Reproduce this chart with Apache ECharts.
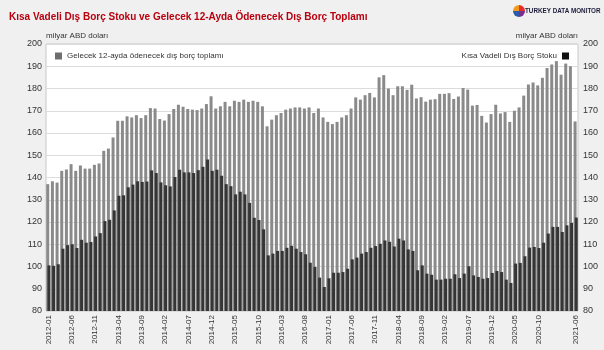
<!DOCTYPE html>
<html>
<head>
<meta charset="utf-8">
<script src="https://cdn.jsdelivr.net/npm/echarts@6/dist/echarts.min.js"></script>
<style>
  html, body { margin: 0; padding: 0; background: #f0f0f0; }
  #chart { width: 604px; height: 350px; }
</style>
</head>
<body>
<div id="chart"></div>
<script>
// Monthly categories, 2012-01 .. 2021-06
const months = [];
for (let y = 2012; y <= 2021; y++) {
  for (let m = 1; m <= 12; m++) {
    if (y === 2021 && m > 6) break;
    months.push(y + '-' + (m < 10 ? '0' + m : m));
  }
}

// Next-12-month external debt payments (billion USD)
const next12Months = [
  137, 138.3, 137.7, 143, 143.6, 146, 143, 145.4, 144, 144, 145.7, 146.3,
  152, 153, 158, 165.5, 165.5, 167.5, 167, 168, 166.7, 168, 171.2, 171,
  166.3, 165.6, 168.5, 170.8, 172.7, 171.8, 170.8, 170.5, 170.3, 171, 173, 176.5,
  171, 172, 174, 172, 174.5, 174, 175, 174, 174.5, 174, 172, 163,
  166, 168, 169, 170.5, 171, 171.5, 171.5, 171, 171.5, 169, 171, 167,
  165, 164, 165, 167, 168, 171, 176, 175, 177, 178, 176, 185,
  186, 180, 177, 181, 181, 179.4, 181.7, 175.5, 176.1, 174.1, 175, 175.2,
  177.6, 177.6, 177.9, 175.3, 176.4, 180.2, 179.5, 172.3, 172.6, 167.7, 164.7, 168.5,
  172.7, 168.8, 169.4, 165, 170, 171.5, 176.8, 181.8, 182.7, 181.4, 184.8, 189.2,
  190.8, 192.3, 186.2, 191.2, 190, 165.2
];

// Short-term external debt stock (billion USD)
const shortTermStock = [
  100.5, 100.3, 101, 108, 109.6, 110, 108.3, 112, 110.7, 111, 113.5, 115,
  120.4, 121, 125.2, 131.8, 132, 135.6, 136.8, 138.3, 138, 138.2, 143.2, 142,
  137.8, 136.5, 136, 140.2, 143.5, 142.3, 142.3, 142, 143.3, 144.8, 148.1, 143,
  143.5, 140.8, 137, 136.1, 132.4, 133.6, 132.4, 128.6, 121.9, 120.9, 116.7, 105,
  105.8, 107, 107, 108.4, 109.3, 108, 106.5, 105.5, 101.7, 99.8, 95, 90.8,
  94.7, 97.2, 97.2, 97.5, 99, 103.2, 104, 105.8, 106.5, 108.4, 109.2, 110.2,
  111.7, 111.1, 109, 112.5, 111.7, 107.7, 107, 98.3, 100.5, 96.8, 96.3, 94.1,
  94.1, 94.5, 94.5, 96.5, 94.8, 96.8, 100.1, 96, 95.3, 94.5, 94.8, 97.1,
  98, 97.5, 94.1, 92.6, 101.3, 101.6, 104.6, 108.5, 108.8, 108.3, 110.7, 114.8,
  117.8, 117.8, 115.5, 118.5, 119.6, 122
];

const seriesNames = ['Gelecek 12-ayda ödenecek dış borç toplamı', 'Kısa Vadeli Dış Borç Stoku'];
const unitName = 'milyar ABD doları';
const lastIndex = months.length - 1;

const chart = echarts.init(document.getElementById('chart'), null, { renderer: 'canvas' });

const FONT = 'Arial, Liberation Sans, sans-serif';
const axisLabelStyle = { color: '#333', fontSize: 9, fontFamily: FONT };

chart.setOption({
  backgroundColor: '#f0f0f0',
  animation: false,
  textStyle: { fontFamily: FONT },
  title: {
    text: 'Kısa Vadeli Dış Borç Stoku ve Gelecek 12-Ayda Ödenecek Dış Borç Toplamı',
    left: 4, top: 7,
    textStyle: { color: '#b8000f', fontSize: 10, fontWeight: 'bold', fontFamily: FONT }
  },
  legend: [
    {
      data: [{ name: seriesNames[0], itemStyle: { color: '#6e6e6e' } }],
      left: 50, top: 47, icon: 'rect', itemWidth: 7, itemHeight: 7, itemGap: 5,
      textStyle: { fontSize: 8, color: '#333' }, selectedMode: false
    },
    {
      data: [{ name: seriesNames[1], itemStyle: { color: '#111' } }],
      right: 30, top: 47, align: 'right', icon: 'rect', itemWidth: 7, itemHeight: 7,
      textStyle: { fontSize: 8, color: '#333' }, selectedMode: false
    }
  ],
  grid: {
    left: 46, right: 26, top: 44, bottom: 39,
    show: true, backgroundColor: '#fff', borderColor: '#c8c8c8', borderWidth: 1
  },
  xAxis: {
    type: 'category',
    data: months,
    axisLine: { show: false },
    axisTick: { show: false },
    axisLabel: {
      ...axisLabelStyle,
      fontSize: 8,
      rotate: 90,
      margin: 4,
      interval: (i) => (i % 5 === 0 && i <= 105) || i === lastIndex
    }
  },
  yAxis: [
    {
      type: 'value', min: 80, max: 200, interval: 10,
      name: unitName, nameLocation: 'end', nameGap: 3,
      nameTextStyle: { fontSize: 8, color: '#333', align: 'left' },
      axisLine: { show: false }, axisTick: { show: false },
      axisLabel: { ...axisLabelStyle, margin: 4 },
      splitLine: { lineStyle: { color: '#dcdcdc', width: 1 } }
    },
    {
      type: 'value', min: 80, max: 200, interval: 10, position: 'right',
      name: unitName, nameLocation: 'end', nameGap: 3,
      nameTextStyle: { fontSize: 8, color: '#333', align: 'right' },
      axisLine: { show: false }, axisTick: { show: false },
      axisLabel: { ...axisLabelStyle, margin: 5 },
      splitLine: { show: false }
    }
  ],
  series: [
    {
      name: seriesNames[0], type: 'bar', yAxisIndex: 0,
      data: next12Months, barWidth: 3, barGap: '-60%',
      itemStyle: { color: '#8a8a8a' }
    },
    {
      name: seriesNames[1], type: 'bar', yAxisIndex: 1,
      data: shortTermStock, barWidth: 3,
      itemStyle: { color: '#353535' }
    }
  ],
  graphic: [
    // brand mark: four-colour disc and wordmark
    { type: 'sector', shape: { cx: 519, cy: 11, r: 6, startAngle: -Math.PI / 2, endAngle: 0 }, style: { fill: '#e63027' } },
    { type: 'sector', shape: { cx: 519, cy: 11, r: 6, startAngle: 0, endAngle: Math.PI / 2 }, style: { fill: '#7b2f8f' } },
    { type: 'sector', shape: { cx: 519, cy: 11, r: 6, startAngle: Math.PI / 2, endAngle: Math.PI }, style: { fill: '#2a5caa' } },
    { type: 'sector', shape: { cx: 519, cy: 11, r: 6, startAngle: Math.PI, endAngle: Math.PI * 1.5 }, style: { fill: '#f29a1f' } },
    {
      type: 'text', left: 525, top: 8,
      style: { text: 'TURKEY DATA MONITOR', fill: '#1b1b3a', font: 'bold 6.3px Arial, Liberation Sans, sans-serif' }
    }
  ]
});
</script>
</body>
</html>
